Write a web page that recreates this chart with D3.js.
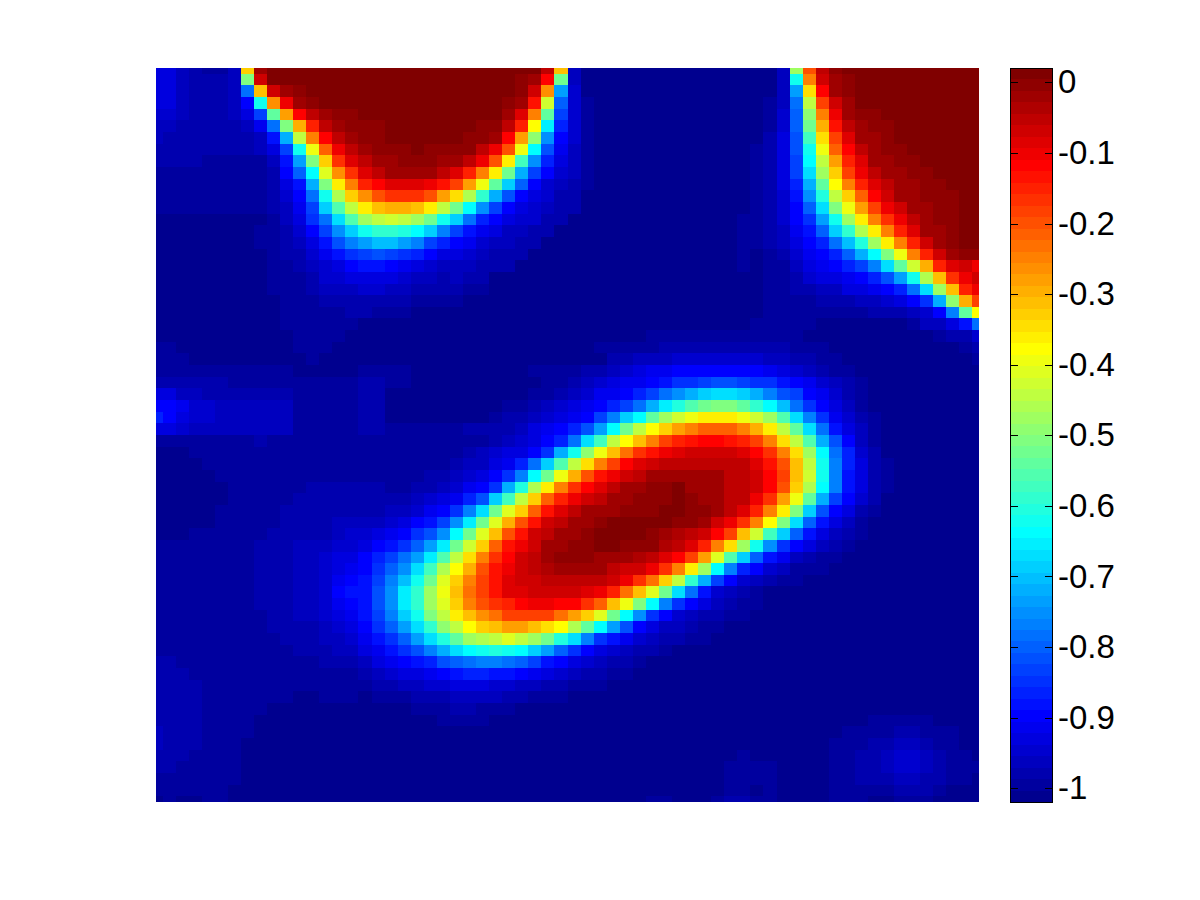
<!DOCTYPE html>
<html>
<head>
  <meta charset="utf-8">
  <title>Heat map with jet colour bar</title>
  <script src="https://d3js.org/d3.v7.min.js"></script>
  <style>
    body { margin: 0; background: #fff; }
    .cbar text { font-family: "Liberation Sans", Arial, sans-serif; font-size: 33px; fill: #000; }
    .cbar line, .cbar path { stroke: #000; stroke-width: 1px; shape-rendering: crispEdges; }
  </style>
</head>
<body>
  <div id="chart"></div>
  <script>
    // colour limits
    const cMin = -1.0195;
    const cMax = 0.0203;
    const tickValues = [0, -0.1, -0.2, -0.3, -0.4, -0.5, -0.6, -0.7, -0.8, -0.9, -1];
    const tickLabels = ["0", "-0.1", "-0.2", "-0.3", "-0.4", "-0.5", "-0.6", "-0.7", "-0.8", "-0.9", "-1"];

    // 64 x 64 grid, colour index (0-63) of each cell
    const cellLevels = [
      [5,5,3,2,1,1,3,42,61,63, 63,63,63,63,63,63,63,63,63,63, 63,63,63,63,63,63,63,63,63,63, 59,43,3,0,0,0,0,0,0,0, 0,0,0,0,0,0,0,0,3,33, 50,59,62,63,63,63,63,63,63,63, 63,63,63,63],
      [5,5,3,2,2,2,3,31,58,63, 63,63,63,63,63,63,63,63,63,63, 63,63,63,63,63,63,63,63,62,61, 55,30,3,0,0,0,0,0,0,0, 0,0,0,0,0,0,0,0,3,24, 47,58,61,62,63,63,63,63,63,63, 63,63,63,63],
      [5,5,3,2,2,2,3,14,43,58, 61,62,63,63,63,63,63,63,63,63, 63,63,63,63,63,63,63,63,62,58, 46,17,4,0,0,0,0,0,0,0, 0,0,0,0,0,0,0,0,3,17, 41,55,61,62,63,63,63,63,63,63, 63,63,63,63],
      [5,5,3,2,2,2,3,7,24,46, 56,61,62,63,63,63,63,63,63,63, 63,63,63,63,63,63,63,62,61,54, 36,13,4,1,0,0,0,0,0,0, 0,0,0,0,0,0,0,1,3,14, 35,51,58,61,63,63,63,63,63,63, 63,63,63,63],
      [4,4,3,2,2,2,3,5,11,29, 45,55,59,61,62,62,63,63,63,63, 63,63,63,63,63,63,63,61,57,47, 29,11,4,1,0,0,0,0,0,0, 0,0,0,0,0,0,0,1,4,13, 32,47,56,61,62,62,63,63,63,63, 63,63,63,63],
      [3,3,2,2,2,2,2,3,6,14, 31,44,53,59,61,62,62,62,63,63, 63,63,63,63,63,62,62,59,53,39, 22,9,4,1,0,0,0,0,0,0, 0,0,0,0,0,0,0,1,4,13, 30,44,54,59,61,62,62,63,63,63, 63,63,63,63],
      [3,2,2,2,2,2,2,2,3,8, 18,35,47,55,59,61,62,62,63,63, 63,63,63,63,62,62,61,55,45,32, 16,7,4,1,0,0,0,0,0,0, 0,0,0,0,0,0,0,2,5,12, 27,41,51,57,61,61,62,63,63,63, 63,63,63,63],
      [2,2,2,2,2,2,2,2,3,5, 11,24,38,49,56,59,61,62,62,62, 63,62,62,62,62,59,56,50,38,23, 12,6,3,1,0,0,0,0,0,0, 0,0,0,0,0,0,1,2,5,12, 24,38,49,55,59,61,62,62,63,63, 63,63,63,63],
      [2,2,2,2,1,1,1,1,1,3, 8,17,31,42,52,57,59,61,61,62, 62,62,61,61,59,56,50,40,27,16, 9,5,3,1,0,0,0,0,0,0, 0,0,0,0,0,0,1,2,5,11, 23,35,45,53,57,61,61,62,62,63, 63,63,63,63],
      [1,1,1,1,1,1,1,1,1,2, 7,13,23,37,46,52,57,59,61,61, 61,61,59,57,53,47,40,30,18,11, 7,4,3,1,0,0,0,0,0,0, 0,0,0,0,0,0,1,2,5,11, 21,33,42,51,56,59,61,61,62,62, 63,63,63,63],
      [1,1,1,1,1,1,1,1,1,2, 5,8,18,31,40,47,53,55,57,57, 57,56,54,51,45,38,29,20,13,7, 4,3,2,1,0,0,0,0,0,0, 0,0,0,0,0,0,1,2,5,9, 18,29,39,47,53,57,59,61,61,62, 62,63,63,63],
      [1,1,1,1,1,1,1,1,1,2, 4,7,14,24,34,42,46,50,52,52, 52,50,45,41,34,26,18,12,7,5, 4,2,2,0,0,0,0,0,0,0, 0,0,0,0,0,0,1,2,4,8, 16,25,35,42,49,55,58,61,61,62, 62,62,63,63],
      [1,1,1,1,1,1,1,1,1,2, 3,6,11,20,28,35,40,43,44,44, 43,40,35,30,23,16,11,7,5,4, 3,2,2,0,0,0,0,0,0,0, 0,0,0,0,0,0,1,2,4,7, 13,21,31,38,45,51,56,58,61,61, 62,62,63,63],
      [0,0,0,0,0,0,0,0,0,1, 3,5,10,14,21,28,33,35,36,35, 33,30,24,20,14,9,7,5,4,4, 2,2,0,0,0,0,0,0,0,0, 0,0,0,0,0,1,1,2,4,7, 10,17,24,33,40,47,52,56,59,61, 62,62,63,63],
      [0,0,0,0,0,0,0,0,1,1, 2,4,7,11,16,20,24,26,26,25, 23,20,15,11,8,6,5,3,3,2, 2,0,0,0,0,0,0,0,0,0, 0,0,0,0,0,1,1,2,3,6, 8,13,20,26,34,40,47,53,57,61, 61,62,63,63],
      [0,0,0,0,0,0,0,0,1,1, 2,3,5,8,12,15,17,19,19,17, 15,11,9,7,6,4,3,3,2,2, 0,0,0,0,0,0,0,0,0,0, 0,0,0,0,0,1,1,2,3,5, 7,9,14,19,25,33,40,47,53,58, 61,62,63,63],
      [0,0,0,0,0,0,0,0,0,1, 2,2,4,6,8,10,11,12,11,10, 9,7,5,5,4,3,2,2,2,0, 0,0,0,0,0,0,0,0,0,0, 0,0,0,0,0,1,0,1,2,4, 6,7,9,13,18,23,31,38,47,53, 58,61,62,62],
      [0,0,0,0,0,0,0,0,0,1, 1,2,3,4,5,7,8,8,7,6, 5,4,3,3,3,2,2,2,0,0, 0,0,0,0,0,0,0,0,0,0, 0,0,0,0,0,1,0,1,1,3, 5,6,7,9,11,15,21,29,36,44, 53,57,58,56],
      [0,0,0,0,0,0,0,0,0,1, 1,1,2,4,4,5,5,5,5,4, 3,3,2,3,2,2,0,0,0,0, 0,0,0,0,0,0,0,0,0,0, 0,0,0,0,0,0,0,1,1,2, 4,5,5,6,7,9,12,17,24,34, 43,52,56,58],
      [0,0,0,0,0,0,0,0,0,1, 1,1,2,3,3,3,4,4,3,3, 2,2,2,2,1,1,0,0,0,0, 0,0,0,0,0,0,0,0,0,0, 0,0,0,0,0,0,0,1,1,2, 2,3,3,5,5,6,7,9,14,21, 33,43,53,56],
      [0,0,0,0,0,0,0,0,0,0, 1,1,1,2,2,2,2,2,2,2, 1,1,1,1,0,0,0,0,0,0, 0,0,0,0,0,0,0,0,0,0, 0,0,0,0,0,0,0,1,1,1, 1,2,2,2,3,3,4,5,7,10, 18,32,44,51],
      [0,0,0,0,0,0,0,0,0,0, 1,1,1,1,1,2,2,1,1,1, 0,0,0,0,0,0,0,0,0,0, 0,0,0,0,0,0,0,0,0,0, 0,0,0,0,0,0,0,1,1,1, 1,1,1,1,1,2,2,2,3,4, 7,15,29,39],
      [0,0,0,0,0,0,0,0,0,0, 1,1,1,1,1,1,0,0,0,0, 0,0,0,0,0,0,0,0,0,0, 0,0,0,0,0,0,0,0,0,0, 0,0,0,0,0,0,1,1,1,1, 1,0,0,0,0,0,0,0,1,3, 3,5,8,14],
      [0,0,0,0,0,0,0,0,0,0, 0,1,1,1,1,0,0,0,0,0, 0,0,0,0,0,0,0,0,0,0, 0,0,0,0,0,0,0,0,1,1, 1,1,1,1,1,1,1,1,1,1, 0,0,0,0,0,0,0,0,0,0, 1,2,2,4],
      [1,1,0,0,0,0,0,0,0,0, 0,1,1,1,0,0,0,0,0,0, 0,0,0,0,0,0,0,0,0,0, 0,0,0,0,1,1,1,1,1,2, 2,2,2,2,2,2,2,2,2,1, 1,1,0,0,0,0,0,0,0,0, 0,0,1,2],
      [1,1,1,0,0,0,0,0,0,0, 0,0,1,0,0,0,0,0,0,0, 0,0,0,0,0,0,0,0,0,0, 0,0,0,0,0,2,2,3,3,3, 4,4,4,4,4,4,4,3,3,2, 2,1,1,0,0,0,0,0,0,0, 0,0,0,1],
      [1,1,1,1,1,1,1,1,1,1, 1,0,0,0,0,0,1,1,1,1, 0,0,0,0,0,0,0,0,0,1, 1,1,1,2,2,3,4,5,6,6, 7,7,7,7,7,7,7,6,5,4, 3,2,1,1,0,0,0,0,0,0, 0,0,0,0],
      [2,2,2,2,2,2,1,1,1,1, 1,1,1,1,1,1,2,2,1,1, 0,0,0,0,0,0,0,0,0,0, 1,1,2,3,4,5,6,6,7,8, 10,10,11,12,12,11,10,10,8,7, 6,4,3,2,1,0,0,0,0,0, 0,0,0,0],
      [5,5,3,3,2,2,2,2,2,2, 2,1,1,1,1,1,2,2,0,0, 0,0,0,0,0,0,0,0,0,1, 1,2,3,4,6,6,7,9,11,14, 16,18,20,21,21,20,18,15,12,11, 7,6,4,2,1,0,0,0,0,0, 0,0,0,0],
      [7,7,6,4,4,3,3,3,3,3, 3,1,1,1,1,1,2,2,0,0, 0,0,0,0,0,0,0,1,1,2, 3,4,5,6,7,9,11,14,18,22, 25,28,30,31,31,29,26,23,19,14, 10,7,5,3,1,0,0,0,0,0, 0,0,0,0],
      [9,7,5,4,4,3,3,3,3,3, 3,1,1,1,1,1,2,2,0,0, 0,0,0,0,0,0,1,2,2,3, 4,5,6,7,11,15,20,23,29,33, 36,38,40,40,40,38,36,33,28,21, 15,10,6,4,2,1,0,0,0,0, 0,0,0,0],
      [5,5,4,3,3,3,3,3,3,3, 3,1,1,1,1,1,2,2,1,1, 1,1,1,1,2,2,2,2,3,5, 6,7,9,12,17,23,30,35,39,42, 45,47,49,49,49,47,44,40,35,29, 21,14,8,5,3,1,0,0,0,0, 0,0,0,0],
      [1,1,1,1,1,1,1,1,2,1, 1,1,1,1,1,1,1,1,1,1, 1,1,1,1,1,1,2,3,4,5, 7,9,14,21,27,35,39,43,47,51, 53,54,55,55,54,53,51,47,41,35, 28,18,12,7,3,1,0,0,0,0, 0,0,0,0],
      [0,0,0,1,1,1,1,1,1,1, 1,1,1,1,1,1,1,1,1,1, 1,1,1,1,2,3,4,5,5,7, 10,18,24,32,38,43,48,52,54,56, 57,58,58,58,58,57,55,52,47,41, 33,23,14,9,4,2,0,0,0,0, 0,0,0,0],
      [0,0,0,0,1,1,1,1,1,1, 1,1,1,1,1,1,1,1,1,1, 1,1,1,2,3,3,5,6,9,14, 20,28,35,41,47,51,55,57,58,59, 59,59,59,59,59,59,57,54,50,43, 35,24,15,9,5,2,1,0,0,0, 0,0,0,0],
      [0,0,0,0,0,1,1,1,1,1, 1,1,1,1,1,1,1,1,1,1, 1,2,2,3,4,5,7,10,15,23, 30,38,44,50,54,56,58,59,61,61, 61,61,61,61,59,59,58,55,51,43, 36,24,15,8,5,2,1,0,0,0, 0,0,0,0],
      [0,0,0,0,0,0,1,1,1,1, 1,1,2,2,2,2,2,2,1,1, 2,2,3,4,6,7,10,18,25,34, 40,47,52,55,57,59,61,61,62,62, 63,61,61,61,59,59,58,55,50,42, 34,23,15,8,5,2,1,0,0,0, 0,0,0,0],
      [0,0,0,0,0,0,1,1,1,1, 1,2,2,2,2,2,2,2,2,2, 3,4,5,6,9,12,20,27,35,42, 49,53,56,58,59,61,61,62,62,62, 63,62,61,61,59,59,56,52,45,38, 29,18,11,7,4,2,0,0,0,0, 0,0,0,0],
      [0,0,0,0,0,1,1,1,1,1, 2,2,2,2,2,2,2,2,3,3, 4,6,7,10,15,21,30,37,42,49, 54,57,59,61,61,61,62,62,62,63, 63,62,62,61,59,57,53,47,40,31, 20,12,7,5,2,1,0,0,0,0, 0,0,0,0],
      [0,0,0,0,0,1,1,1,1,1, 2,2,2,2,3,3,3,3,4,5, 7,8,11,16,22,30,37,44,50,54, 58,59,61,61,62,63,63,63,63,63, 62,62,61,58,56,52,47,39,31,21, 13,8,5,3,1,0,0,0,0,0, 0,0,0,0],
      [0,0,0,1,1,1,1,1,1,2, 2,2,2,2,3,4,4,5,6,7, 10,12,16,23,30,37,43,50,54,58, 59,61,61,62,63,63,63,63,62,61, 60,59,58,55,51,43,36,27,20,13, 8,5,3,2,1,0,0,0,0,0, 0,0,0,0],
      [1,1,1,1,1,1,1,1,2,2, 2,3,3,3,4,4,5,7,8,10, 13,17,22,30,36,42,49,54,56,58, 61,61,62,62,63,63,62,62,62,60, 59,57,53,47,41,33,24,16,10,7, 5,3,2,1,0,0,0,0,0,0, 0,0,0,0],
      [1,1,1,1,1,1,1,1,2,2, 2,3,3,4,5,5,7,9,11,14, 17,22,28,35,41,47,52,55,58,59, 61,62,62,62,61,61,61,60,59,57, 55,51,45,37,28,20,13,8,6,3, 2,1,1,0,0,0,0,0,0,0, 0,0,0,0],
      [1,1,1,1,1,1,1,1,2,2, 2,3,3,4,5,6,7,10,13,16, 21,27,34,39,44,50,54,56,58,59, 60,61,61,61,61,59,58,58,56,52, 47,40,33,23,15,9,7,4,3,1, 1,1,0,0,0,0,0,0,0,0, 0,0,0,0],
      [1,1,1,1,1,1,1,1,2,2, 2,3,3,4,6,7,8,11,15,19, 24,30,37,42,47,51,54,57,58,58, 59,59,59,59,59,58,56,52,48,42, 35,26,18,11,7,4,3,2,1,1, 0,0,0,0,0,0,0,0,0,0, 0,0,0,0],
      [1,1,1,1,1,1,1,1,2,2, 2,3,3,4,7,8,8,12,16,22, 26,33,38,43,48,51,54,57,57,58, 58,58,58,57,56,53,48,43,37,30, 21,14,8,4,3,2,1,0,0,0, 0,0,0,0,0,0,0,0,0,0, 0,0,0,0],
      [1,1,1,1,1,1,1,1,2,2, 2,3,3,4,6,7,8,12,16,22, 26,33,37,42,47,50,52,53,55,56, 56,55,55,52,49,43,38,31,23,15, 10,7,5,3,2,1,1,0,0,0, 0,0,0,0,0,0,0,0,0,0, 0,0,0,0],
      [1,1,1,1,1,1,1,1,1,2, 2,3,3,4,5,6,8,11,15,20, 24,31,35,40,43,46,48,51,51,51, 51,48,45,42,37,30,23,16,10,7, 4,3,2,2,1,1,0,0,0,0, 0,0,0,0,0,0,0,0,0,0, 0,0,0,0],
      [1,1,1,1,1,1,1,1,1,2, 2,2,2,3,4,5,7,10,13,17, 21,26,32,35,39,42,43,45,45,43, 41,39,34,29,23,17,12,7,5,3, 3,2,1,1,0,0,0,0,0,0, 0,0,0,0,0,0,0,0,0,0, 0,0,0,0],
      [1,1,1,1,1,1,1,1,1,1, 2,2,2,3,3,4,6,8,10,13, 17,21,25,29,33,34,35,37,35,33, 30,25,21,15,10,8,6,4,3,2, 2,1,1,0,0,0,0,0,0,0, 0,0,0,0,0,0,0,0,0,0, 0,0,0,0],
      [1,1,1,1,1,1,1,1,1,1, 1,2,2,2,3,3,5,6,8,10, 12,15,18,21,23,24,25,24,23,20, 17,13,10,7,5,4,3,2,2,1, 0,0,0,0,0,0,0,0,0,0, 0,0,0,0,0,0,0,0,0,0, 0,0,0,0],
      [2,2,1,1,1,1,1,1,1,1, 1,1,1,2,2,2,3,5,6,7, 8,9,12,13,14,15,15,14,13,11, 8,7,5,4,3,2,2,1,0,0, 0,0,0,0,0,0,0,0,0,0, 0,0,0,0,0,0,0,0,0,0, 0,0,0,0],
      [2,2,2,1,1,1,1,1,1,1, 1,1,1,1,1,1,2,3,4,5, 5,6,7,8,9,9,8,8,7,6, 5,4,3,2,2,1,1,0,0,0, 0,0,0,0,0,0,0,0,0,0, 0,0,0,0,0,0,0,0,0,0, 0,0,0,0],
      [2,2,2,2,1,1,1,1,1,1, 1,1,1,1,1,1,1,2,2,3, 3,4,4,5,5,5,4,4,3,3, 2,2,1,1,1,0,0,0,0,0, 0,0,0,0,0,0,0,0,0,0, 0,0,0,0,0,0,0,0,0,0, 0,0,0,0],
      [2,2,2,2,1,1,1,1,1,1, 1,0,0,1,1,1,0,1,1,1, 2,2,2,3,3,3,3,2,2,1, 1,1,0,0,0,0,0,0,0,0, 0,0,0,0,0,0,0,0,0,0, 0,0,0,0,0,0,0,0,0,0, 0,0,0,0],
      [2,2,2,2,1,1,1,1,1,0, 0,0,0,0,0,0,0,0,0,0, 1,1,1,2,2,1,1,1,0,0, 0,0,0,0,0,0,0,0,0,0, 0,0,0,0,0,0,0,0,0,0, 0,0,0,0,0,0,0,0,0,0, 0,0,0,0],
      [2,2,2,2,1,1,1,1,0,0, 0,0,0,0,0,0,0,0,0,0, 0,0,1,1,1,1,0,0,0,0, 0,0,0,0,0,0,0,0,0,0, 0,0,0,0,0,0,0,0,0,0, 0,0,0,0,0,1,1,1,1,1, 0,0,0,0],
      [3,2,2,2,1,1,1,1,0,0, 0,0,0,0,0,0,0,0,0,0, 0,0,0,0,0,0,0,0,0,0, 0,0,0,0,0,0,0,0,0,0, 0,0,0,0,0,0,0,0,0,0, 0,0,0,1,1,1,1,2,2,1, 1,1,0,0],
      [3,2,2,2,1,1,1,0,0,0, 0,0,0,0,0,0,0,0,0,0, 0,0,0,0,0,0,0,0,0,0, 0,0,0,0,0,0,0,0,0,0, 0,0,0,0,0,0,0,0,0,0, 0,0,1,1,1,2,2,3,3,2, 1,1,0,0],
      [2,2,2,1,1,1,1,0,0,0, 0,0,0,0,0,0,0,0,0,0, 0,0,0,0,0,0,0,0,0,0, 0,0,0,0,0,0,0,0,0,0, 0,0,0,0,0,1,0,0,0,0, 0,0,1,1,2,2,3,4,4,3, 2,1,1,0],
      [2,2,1,1,1,1,1,0,0,0, 0,0,0,0,0,0,0,0,0,0, 0,0,0,0,0,0,0,0,0,0, 0,0,0,0,0,0,0,0,0,0, 0,0,0,0,1,1,1,1,0,0, 0,0,1,1,2,2,3,4,4,3, 2,1,1,1],
      [1,1,1,1,1,1,1,0,0,0, 0,0,0,0,0,0,0,0,0,0, 0,0,0,0,0,0,0,0,0,0, 0,0,0,0,0,0,0,0,0,0, 0,0,0,0,1,1,1,1,0,0, 0,0,1,1,2,2,2,3,3,2, 2,1,1,0],
      [1,1,1,1,1,1,0,0,0,0, 0,0,0,0,0,0,0,0,0,0, 0,0,0,0,0,0,0,0,0,0, 0,0,0,0,0,0,0,0,0,0, 0,0,0,0,1,1,0,1,0,0, 0,0,1,1,1,1,1,2,2,2, 1,0,0,0],
      [0,1,0,0,1,1,0,0,0,0, 0,0,0,0,0,0,0,0,0,0, 0,0,0,0,0,0,0,0,0,0, 0,0,0,0,0,0,0,0,1,1, 0,0,0,1,2,2,1,1,0,0, 0,0,1,1,1,0,0,1,1,1, 0,0,0,0]
    ];

    const width = 1200;
    const height = 900;
    const plot = { left: 156, right: 979, top: 68, bottom: 802 };
    const bar = { left: 1010, right: 1052 };
    const nLevels = 64;

    // matlab jet, 64 steps
    const jet = d3.range(nLevels).map(L => {
      const b = L <= 7 ? (L + 9) / 16 : L <= 23 ? 1 : L <= 39 ? (39 - L) / 16 : 0;
      const g = L <= 7 ? 0 : L <= 23 ? (L - 7) / 16 : L <= 39 ? 1 : L <= 54 ? (55 - L) / 16 : 0;
      const r = L <= 23 ? 0 : L <= 39 ? (L - 23) / 16 : L <= 55 ? 1 : (71 - L) / 16;
      return d3.rgb(r * 255, g * 255, b * 255).formatHex();
    });

    const color = d3.scaleQuantize().domain([cMin, cMax]).range(jet);
    const levelValue = L => cMin + (L + 0.5) * (cMax - cMin) / nLevels;

    const svg = d3.select("#chart")
      .append("svg")
      .attr("width", width)
      .attr("height", height)
      .style("display", "block");

    // cell centres sit on the axes limits, so the outer rows and columns are cut in half
    const x = d3.scaleLinear().domain([0, 63]).range([plot.left, plot.right]);
    const y = d3.scaleLinear().domain([0, 63]).range([plot.top, plot.bottom]);

    svg.append("clipPath")
      .attr("id", "plotClip")
      .append("rect")
      .attr("x", plot.left)
      .attr("y", plot.top)
      .attr("width", plot.right - plot.left)
      .attr("height", plot.bottom - plot.top);

    const cells = cellLevels.flatMap((row, j) => row.map((level, i) => ({ i, j, value: levelValue(level) })));

    svg.append("g")
      .attr("clip-path", "url(#plotClip)")
      .attr("shape-rendering", "crispEdges")
      .selectAll("rect")
      .data(cells)
      .enter()
      .append("rect")
      .attr("x", d => Math.round(x(d.i - 0.5)))
      .attr("y", d => Math.round(y(d.j - 0.5)))
      .attr("width", d => Math.round(x(d.i + 0.5)) - Math.round(x(d.i - 0.5)))
      .attr("height", d => Math.round(y(d.j + 0.5)) - Math.round(y(d.j - 0.5)))
      .attr("fill", d => color(d.value));

    // colour bar
    const barY = d3.scaleLinear().domain([cMin, cMax]).range([plot.bottom, plot.top]);
    const step = (cMax - cMin) / nLevels;

    svg.append("g")
      .attr("shape-rendering", "crispEdges")
      .selectAll("rect")
      .data(d3.range(nLevels))
      .enter()
      .append("rect")
      .attr("x", bar.left)
      .attr("width", bar.right - bar.left)
      .attr("y", L => Math.round(barY(cMin + (L + 1) * step)))
      .attr("height", L => Math.round(barY(cMin + L * step)) - Math.round(barY(cMin + (L + 1) * step)))
      .attr("fill", L => jet[L]);

    const rightAxis = d3.axisRight(barY)
      .tickValues(tickValues)
      .tickFormat((d, i) => tickLabels[i])
      .tickSize(-8)
      .tickPadding(14);

    const leftAxis = d3.axisLeft(barY)
      .tickValues(tickValues)
      .tickFormat("")
      .tickSize(-7);

    const gRight = svg.append("g")
      .attr("class", "cbar")
      .attr("transform", `translate(${bar.right + 0.5},0)`)
      .call(rightAxis);

    gRight.select(".domain").remove();
    gRight.selectAll("text").attr("text-anchor", "start").attr("x", 5.5);

    const gLeft = svg.append("g")
      .attr("class", "cbar")
      .attr("transform", `translate(${bar.left + 0.5},0)`)
      .call(leftAxis);

    gLeft.select(".domain").remove();

    svg.append("rect")
      .attr("x", bar.left + 0.5)
      .attr("y", plot.top + 0.5)
      .attr("width", bar.right - bar.left)
      .attr("height", plot.bottom - plot.top)
      .attr("fill", "none")
      .attr("stroke", "#000")
      .attr("shape-rendering", "crispEdges");
  </script>
</body>
</html>
